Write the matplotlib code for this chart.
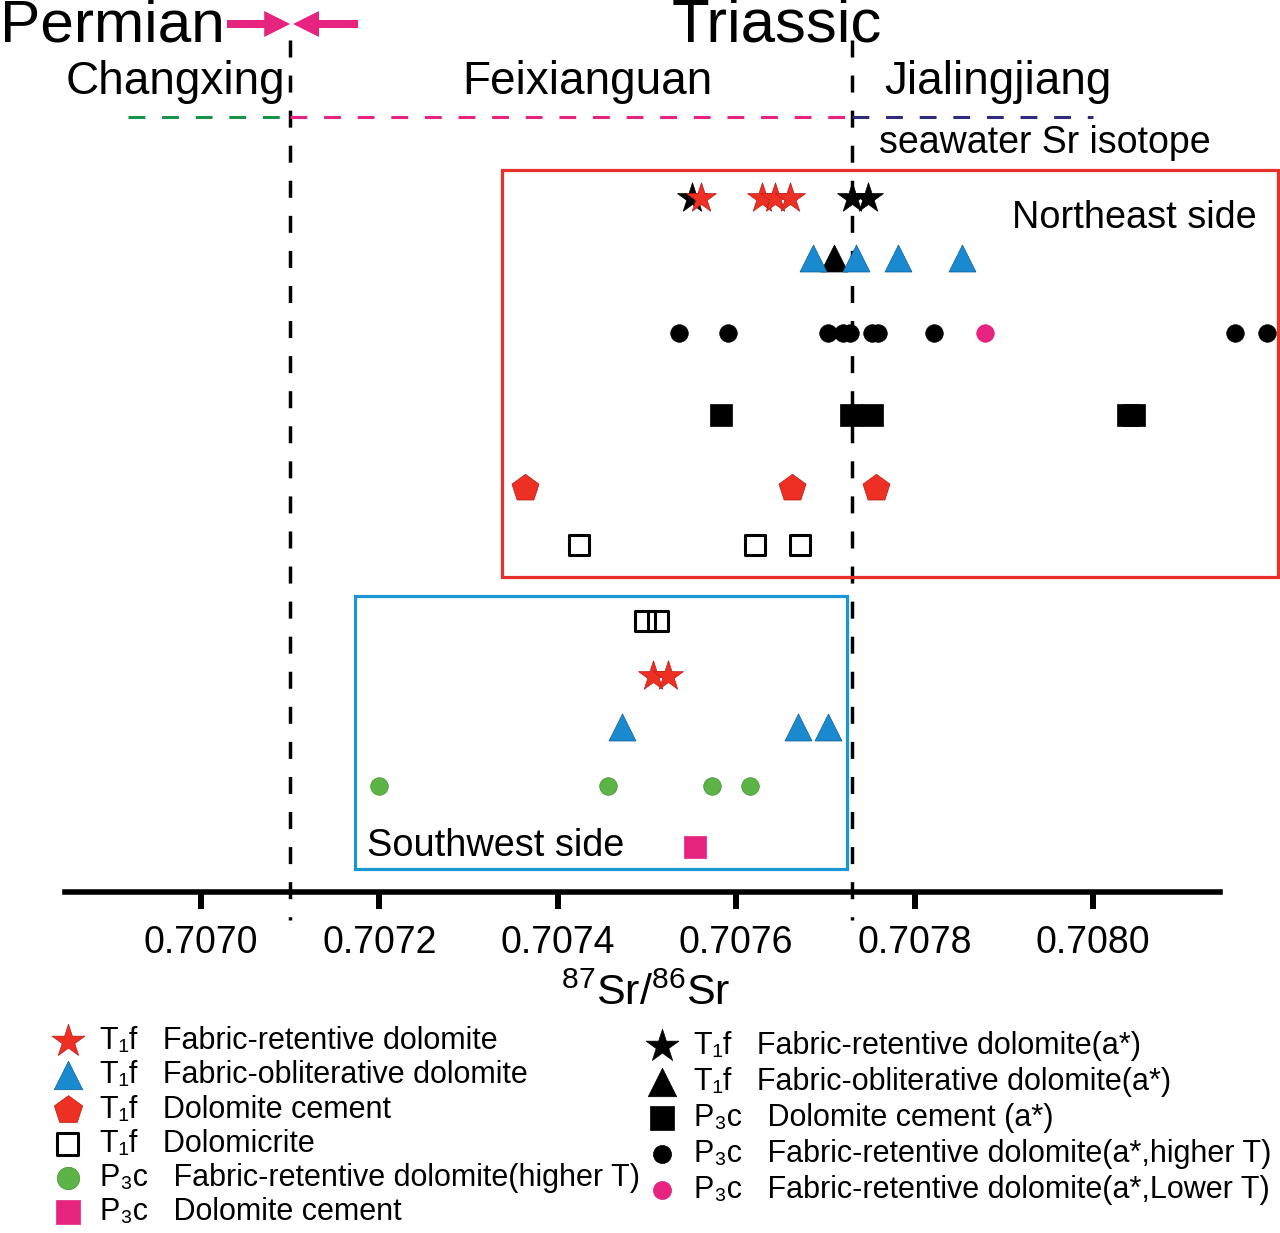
import matplotlib
matplotlib.use("Agg")
import matplotlib.pyplot as plt
from matplotlib.patches import Rectangle, FancyArrow

plt.rcParams['font.family'] = ['Liberation Sans', 'DejaVu Sans']
plt.rcParams['mathtext.fontset'] = 'custom'
plt.rcParams['mathtext.rm'] = 'Liberation Sans'
plt.rcParams['mathtext.it'] = 'Liberation Sans:italic'
plt.rcParams['mathtext.bf'] = 'Liberation Sans:bold'

# ---------------- data (87Sr/86Sr) ----------------
# Northeast side
ne_t1f_fr = [0.707561, 0.707629, 0.707644, 0.707660]          # red stars
ne_t1f_fr_a = [0.707550, 0.707730, 0.707748]                   # black stars
ne_t1f_fo_a = [0.707710]                                       # black triangle
ne_t1f_fo = [0.707686, 0.707734, 0.707781, 0.707853]           # blue triangles
ne_p3c_fr_a_high = [0.707536, 0.707591, 0.707703, 0.707720, 0.707728,
                    0.707752, 0.707759, 0.707822, 0.708159, 0.708195]  # black dots
ne_p3c_fr_a_low = [0.707879]                                   # pink dot
ne_p3c_cem_a = [0.707583, 0.707729, 0.707752, 0.708039, 0.708046]  # black squares
ne_t1f_cem = [0.707363, 0.707663, 0.707757]                    # red pentagons
ne_t1f_micrite = [0.707424, 0.707621, 0.707671]                # open squares
# Southwest side
sw_t1f_micrite = [0.707498, 0.707512]
sw_t1f_fr = [0.707507, 0.707524]
sw_t1f_fo = [0.707472, 0.707669, 0.707703]
sw_p3c_fr_high = [0.707200, 0.707456, 0.707573, 0.707615]
sw_p3c_cem = [0.707554]

boundaries = [0.70710, 0.70773]       # P/T boundary, Feixianguan/Jialingjiang
tick_values = [0.7070, 0.7072, 0.7074, 0.7076, 0.7078, 0.7080]
tick_labels = ['0.7070', '0.7072', '0.7074', '0.7076', '0.7078', '0.7080']

# ---------------- layout helpers ----------------
W, H = 1280, 1233
def vx(px):
    return 0.7070 + (px - 201) / 892000.0

fig = plt.figure(figsize=(W / 100, H / 100), dpi=100)
ax = fig.add_axes([0, 0, 1, 1])
ax.set_xlim(vx(0), vx(W))
ax.set_ylim(H, 0)
ax.patch.set_alpha(0)
for s in ['top', 'left', 'right']:
    ax.spines[s].set_visible(False)
ax.spines['bottom'].set_position(('data', 892))
ax.spines['bottom'].set_bounds(vx(65), vx(1220))
ax.spines['bottom'].set_linewidth(4)
ax.set_xticks(tick_values, tick_labels)
ax.tick_params(axis='x', direction='out', length=12, width=4.3, labelsize=27, pad=12)
ax.tick_params(axis='y', left=False, labelleft=False)

RED = '#ee2f24'
BLUE = '#1a8ad0'
GREEN = '#5cb346'
PINK = '#e6237e'

def txt(x, y, s, size, ha='left', va='baseline'):
    fig.text(x / W, 1 - y / H, s, fontsize=size, ha=ha, va=va, color='black')

# vertical dashed boundaries
for b in boundaries:
    ax.plot([b, b], [40, 920], color='black', lw=2.5, dashes=(4.9, 5.2), zorder=1)

# horizontal seawater dashed lines
ax.plot([vx(128), boundaries[0]], [117, 117], color='#17924b', lw=2.2, dashes=(5.5, 5.5), zorder=1)
ax.plot([boundaries[0], boundaries[1]], [117, 117], color=PINK, lw=2.2, dashes=(5.5, 5.5), zorder=1)
ax.plot([boundaries[1], 0.7080], [117, 117], color='#2e2a7d', lw=2.2, dashes=(5.5, 5.5), zorder=1)

# boxes
ax.add_patch(Rectangle((vx(502), 170), vx(1278) - vx(502), 407, fill=False,
                       edgecolor='#e8312a', lw=2.3, zorder=2))
ax.add_patch(Rectangle((vx(355), 596), vx(847) - vx(355), 273, fill=False,
                       edgecolor='#1a96d4', lw=2.3, zorder=2))

# arrows at the P/T boundary
ax.add_patch(FancyArrow(vx(227), 24, boundaries[0] - vx(227), 0, width=8, head_width=26,
                        head_length=26 / 892000.0, length_includes_head=True,
                        color=PINK, lw=0, zorder=3))
ax.add_patch(FancyArrow(vx(358), 24, vx(293) - vx(358), 0, width=8, head_width=26,
                        head_length=26 / 892000.0, length_includes_head=True,
                        color=PINK, lw=0, zorder=3))

def row(vals, y, **kw):
    return ax.scatter(vals, [y] * len(vals), zorder=5, **kw)

S_STAR, S_TRI, S_PENT, S_SQ, S_OSQ, S_DOT = 515, 378, 420, 250, 207, 160
# Northeast
h_star_a = row(ne_t1f_fr_a, 198, marker='*', s=S_STAR, c='black', edgecolors='black', linewidths=0.5)
h_star = row(ne_t1f_fr, 198, marker='*', s=S_STAR, c=RED, edgecolors='#b81c14', linewidths=0.5)
h_tri_a = row(ne_t1f_fo_a, 258, marker='^', s=S_TRI, c='black', edgecolors='black', linewidths=0.5)
h_tri = row(ne_t1f_fo, 258, marker='^', s=S_TRI, c=BLUE, edgecolors='#0d5f96', linewidths=0.5)
h_dot_a = row(ne_p3c_fr_a_high, 333, marker='o', s=S_DOT, c='black', edgecolors='black', linewidths=0.5)
h_dot_low = row(ne_p3c_fr_a_low, 333, marker='o', s=S_DOT, c=PINK, edgecolors=PINK, linewidths=0.5)
h_sq_a = row(ne_p3c_cem_a, 415, marker='s', s=S_SQ, c='black', edgecolors='black', linewidths=0.5)
h_pent = row(ne_t1f_cem, 488, marker='p', s=S_PENT, c=RED, edgecolors='#b81c14', linewidths=0.5)
h_osq = row(ne_t1f_micrite, 545, marker='s', s=S_OSQ, facecolors='none', edgecolors='black', linewidths=2.2)
# Southwest
row(sw_t1f_micrite, 621, marker='s', s=S_OSQ, facecolors='none', edgecolors='black', linewidths=2.2)
row(sw_t1f_fr, 676, marker='*', s=S_STAR, c=RED, edgecolors='#b81c14', linewidths=0.5)
row(sw_t1f_fo, 727, marker='^', s=S_TRI, c=BLUE, edgecolors='#0d5f96', linewidths=0.5)
h_green = row(sw_p3c_fr_high, 786, marker='o', s=S_DOT, c=GREEN, edgecolors='#3f8f2f', linewidths=0.5)
h_psq = row(sw_p3c_cem, 847, marker='s', s=S_SQ, c=PINK, edgecolors=PINK, linewidths=0.5)

# texts
txt(0, 42, 'Permian', 43.5)
txt(672, 42, 'Triassic', 44.5)
txt(66, 94, 'Changxing', 33)
txt(462, 94, 'Feixianguan', 33)
txt(884, 94, 'Jialingjiang', 33)
txt(879, 153, 'seawater Sr isotope', 27)
txt(1012, 228, 'Northeast side', 27.3)
txt(367, 856, 'Southwest side', 27.3)
txt(646, 1005, r'$^{87}$Sr/$^{86}$Sr', 31, ha='center')

# legends
t1 = 'T\u2081f   '
p3 = 'P\u2083c   '
left_h = [h_star, h_tri, h_pent, h_osq, h_green, h_psq]
left_l = [t1 + 'Fabric-retentive dolomite', t1 + 'Fabric-obliterative dolomite',
          t1 + 'Dolomite cement', t1 + 'Dolomicrite',
          p3 + 'Fabric-retentive dolomite(higher T)', p3 + 'Dolomite cement']
right_h = [h_star_a, h_tri_a, h_sq_a, h_dot_a, h_dot_low]
right_l = [t1 + 'Fabric-retentive dolomite(a*)', t1 + 'Fabric-obliterative dolomite(a*)',
           p3 + 'Dolomite cement (a*)', p3 + 'Fabric-retentive dolomite(a*,higher T)',
           p3 + 'Fabric-retentive dolomite(a*,Lower T)']
common = dict(loc='upper left', frameon=False, fontsize=22, handlelength=1.15,
              handletextpad=0.5, borderpad=0, borderaxespad=0,
              scatterpoints=1, bbox_transform=fig.transFigure)
leg1 = fig.legend(left_h, left_l, bbox_to_anchor=(50 / W, 1 - 1026 / H),
                  labelspacing=0.14, **common)
leg2 = fig.legend(right_h, right_l, bbox_to_anchor=(644 / W, 1 - 1031 / H),
                  labelspacing=0.2, **common)
for hnd, sz in zip(leg1.legend_handles, [620, 420, 460, 240, 260, 300]):
    hnd.set_sizes([sz])
for hnd, sz in zip(leg2.legend_handles, [620, 420, 280, 170, 170]):
    hnd.set_sizes([sz])

fig.savefig('out.png', dpi=100)
